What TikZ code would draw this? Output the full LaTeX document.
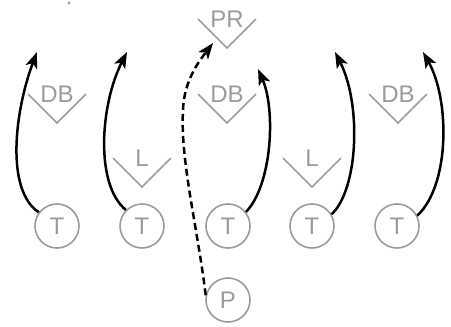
\documentclass[tikz,border=0pt]{standalone}
\usepackage{fontspec}
\setmainfont{Liberation Sans}
\usetikzlibrary{arrows.meta}
\definecolor{pgray}{RGB}{155,155,155}
\begin{document}
\begin{tikzpicture}[x=1pt,y=-1pt,
  player/.style={circle,draw=pgray,line width=1.6pt,minimum size=44pt,inner sep=0pt,text=pgray,font=\fontsize{24pt}{24pt}\selectfont},
  role/.style={inner sep=0pt,text=pgray,font=\fontsize{24pt}{24pt}\selectfont},
  chev/.style={draw=pgray,line width=1.6pt},
  route/.style={draw=black,line width=2.5pt,-{Stealth[length=16pt,width=12pt,inset=4pt]}},
  dashroute/.style={route,dash pattern=on 7pt off 4pt}]
\useasboundingbox (0,0) rectangle (451,327);
% players
\node[player] (T1) at (57,226) {T};
\node[player] (T2) at (142,226) {T};
\node[player] (T3) at (228,226) {T};
\node[player] (T4) at (312,226) {T};
\node[player] (T5) at (397,226) {T};
\node[player] (P) at (228,300) {P};
% roles
\node[role] (db1) at (57,94) {DB};
\node[role] (l1) at (142,158) {L};
\node[role] (pr) at (227,19) {PR};
\node[role] (db2) at (227,94) {DB};
\node[role] (l2) at (312,158) {L};
\node[role] (db3) at (398,94) {DB};
\foreach \n in {db1,l1,pr,db2,l2,db3}{
  \draw[chev] (\n.center) ++(-29,0) -- ++(29,29) -- ++(29,-29);
}
% arrow ends
\coordinate (e1) at (37,52);
\coordinate (e2) at (127,52);
\coordinate (e3) at (258,69);
\coordinate (e4) at (335,52);
\coordinate (e5) at (423,52);
\coordinate (ep) at (213,43);
% routes
\draw[route] (T1.143) .. controls (5,190) and (15,110) .. (e1);
\draw[route] (T2.135) .. controls (95,185) and (100,105) .. (e2);
\draw[route] (T3.38) .. controls (272,185) and (276,110) .. (e3);
\draw[route] (T4.31) .. controls (358,190) and (362,105) .. (e4);
\draw[route] (T5.27) .. controls (450,185) and (450,100) .. (e5);
\draw[dashroute] (P.168) .. controls (198,230) and (180,160) .. (183,110)
  .. controls (184,80) and (200,60) .. (ep);
% stray mark
\fill[pgray] (69,3) circle (1.6);
\end{tikzpicture}
\end{document}
